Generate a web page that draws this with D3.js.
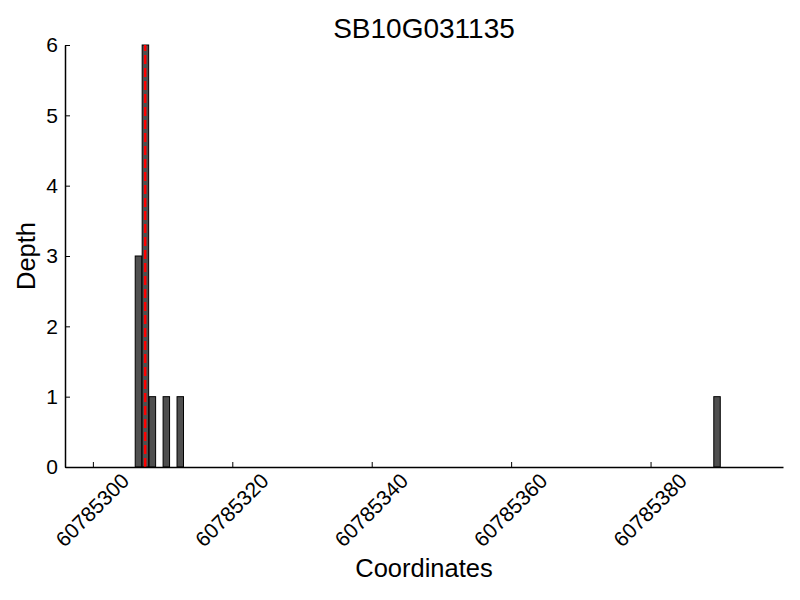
<!DOCTYPE html>
<html>
<head>
<meta charset="utf-8">
<script src="https://cdn.jsdelivr.net/npm/d3@7"></script>
<style>
  body { margin: 0; background: #fff; }
  text { font-family: "Liberation Sans", Arial, sans-serif; fill: #000; }
</style>
</head>
<body>
<div id="chart"></div>
<script>
// depth per coordinate
var coords = [60785306, 60785307, 60785308, 60785310, 60785312, 60785389];
var depths = [3, 6, 1, 1, 1, 1];
var xTicks = [60785300, 60785320, 60785340, 60785360, 60785380];
var yTicks = [0, 1, 2, 3, 4, 5, 6];
var markPos = [60785307.5];
var title = "SB10G031135";

var w = 800, h = 600;
var m = {left: 65, right: 17, top: 45, bottom: 133};

var x = d3.scaleLinear().domain([60785296, 60785399])
  .range([m.left, w - m.right]);
var y = d3.scaleLinear().domain([0, 6])
  .range([h - m.bottom, m.top]);

var svg = d3.select("#chart").append("svg")
  .attr("width", w).attr("height", h);

svg.selectAll("rect.bar")
  .data(coords)
  .enter().append("rect")
    .attr("class", "bar")
    .attr("x", function(d) { return x(d) + 0.5; })
    .attr("width", function(d) { return x(d + 1) - x(d) - 0.5; })
    .attr("y", function(d, i) { return y(depths[i]); })
    .attr("height", function(d, i) { return y(0) - y(depths[i]); })
    .attr("fill", "#4f4f4f")
    .attr("stroke", "#000")
    .attr("stroke-width", 1);

svg.selectAll("line.mark")
  .data(markPos)
  .enter().append("line")
    .attr("class", "mark")
    .attr("x1", function(d) { return x(d); })
    .attr("x2", function(d) { return x(d); })
    .attr("y1", y(0))
    .attr("y2", y(6))
    .attr("stroke", "#ff0000")
    .attr("stroke-width", 2.5)
    .attr("stroke-dasharray", "9,4");

var xAxis = d3.axisBottom(x).tickValues(xTicks)
  .tickSizeInner(-5).tickSizeOuter(0)
  .tickFormat(d3.format("d"));
var gx = svg.append("g")
  .attr("transform", "translate(0," + y(0) + ")")
  .call(xAxis);
gx.select(".domain").attr("stroke-width", 1.5);
gx.selectAll(".tick line").attr("stroke-width", 1);
gx.selectAll(".tick text")
  .attr("font-size", 21)
  .attr("text-anchor", "middle")
  .attr("dy", "0.35em")
  .attr("y", 0)
  .attr("transform", "translate(-1,43) rotate(-45)");

var yAxis = d3.axisLeft(y).tickValues(yTicks)
  .tickSizeInner(-5).tickSizeOuter(0)
  .tickFormat(d3.format("d"));
var gy = svg.append("g")
  .attr("transform", "translate(" + m.left + ",0)")
  .call(yAxis);
gy.select(".domain").attr("stroke-width", 1.5);
gy.selectAll(".tick text")
  .attr("font-size", 21)
  .attr("x", -7);

svg.append("text")
  .attr("x", (m.left + w - m.right) / 2)
  .attr("y", 38)
  .attr("text-anchor", "middle")
  .attr("font-size", 28)
  .text(title);

svg.append("text")
  .attr("x", (m.left + w - m.right) / 2)
  .attr("y", 577)
  .attr("text-anchor", "middle")
  .attr("font-size", 25.5)
  .text("Coordinates");

svg.append("text")
  .attr("transform", "translate(35," + (m.top + h - m.bottom) / 2 + ") rotate(-90)")
  .attr("text-anchor", "middle")
  .attr("font-size", 25.5)
  .text("Depth");
</script>
</body>
</html>
